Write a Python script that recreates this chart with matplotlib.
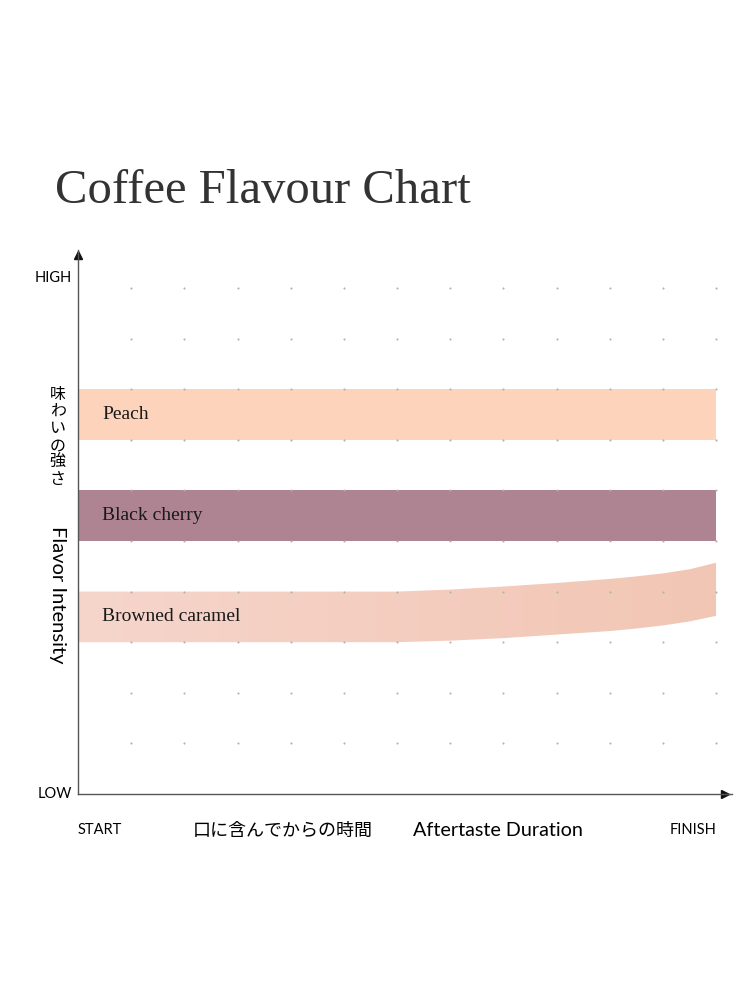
import numpy as np
import matplotlib
matplotlib.use('Agg')
from matplotlib import pyplot as plt
from matplotlib.colors import LinearSegmentedColormap

# flavour bands: (name, bottom, top, colour)
band_names = ['Peach', 'Black cherry']
band_bottom = [7, 5]
band_top = [8, 6]
band_colors = ['#fdd3bc', '#ae8492']

# browned caramel rises towards the finish
caramel_x = [0, 6, 7, 8, 9, 10, 10.5, 11, 11.5, 12]
caramel_top = [4.0, 4.0, 4.04, 4.1, 4.17, 4.25, 4.3, 4.36, 4.44, 4.57]
caramel_bottom = [3.0, 3.0, 3.03, 3.08, 3.15, 3.22, 3.27, 3.33, 3.41, 3.52]

x_end = 12
y_end = 10
xlim = 12.30
ylim = 10.75

serif = ['Liberation Serif', 'DejaVu Serif']
sans = ['Lato', 'Noto Sans CJK JP', 'DejaVu Sans']
cjk = ['Noto Sans CJK JP', 'DejaVu Sans']

fig = plt.figure(figsize=(7.5, 10), dpi=100)
fig.text(0.073, 0.797, 'Coffee Flavour Chart', family=serif, fontsize=35,
         color='#333333', va='baseline')

ax = fig.add_axes([0.104, 0.206, 0.872, 0.544])
ax.set_xlim(0, xlim)
ax.set_ylim(0, ylim)
ax.set_xticks([])
ax.set_yticks([])
for s in ['top', 'right']:
    ax.spines[s].set_visible(False)
for s in ['left', 'bottom']:
    ax.spines[s].set_color('#555555')
    ax.spines[s].set_linewidth(1.0)
ax.plot(0, 0.99, '^', color='#111111', markersize=6, transform=ax.transAxes, clip_on=False)
ax.plot(0.99, 0, '>', color='#111111', markersize=6, transform=ax.transAxes, clip_on=False)

# dotted grid
gx, gy = np.meshgrid(np.arange(1, x_end + 1), np.arange(1, y_end + 1))
ax.scatter(gx.ravel(), gy.ravel(), s=2.2, color='#b0b0b0', zorder=3, linewidths=0)

for name, b, t, c in zip(band_names, band_bottom, band_top, band_colors):
    ax.fill_between([0, x_end], b, t, color=c, lw=0, zorder=1)
    ax.text(0.45, (b + t) / 2, name, family=serif, fontsize=14, color='#1a1a1a',
            va='center', zorder=4)

poly = ax.fill_between(caramel_x, caramel_bottom, caramel_top, color='none', lw=0)
cmap = LinearSegmentedColormap.from_list('caramel', ['#f6d5cb', '#f2c6b4'])
grad = np.linspace(0, 1, 256).reshape(1, -1)
im = ax.imshow(grad, cmap=cmap, aspect='auto', extent=[0, x_end, 2.9, 4.7],
               zorder=1, interpolation='bilinear')
path = poly.get_paths()[0]
im.set_clip_path(path, transform=ax.transData)
ax.text(0.45, 3.5, 'Browned caramel', family=serif, fontsize=14, color='#1a1a1a',
        va='center', zorder=4)

# axis labels
ax.text(-0.11, 10.2, 'HIGH', family=sans, fontsize=10.5, ha='right', va='center')
ax.text(-0.11, 0, 'LOW', family=sans, fontsize=10.5, ha='right', va='center')
ax.text(0, -0.72, 'START', family=sans, fontsize=10.5, ha='left', va='center')
ax.text(x_end, -0.72, 'FINISH', family=sans, fontsize=10.5, ha='right', va='center')
ax.text(3.85, -0.72, '口に含んでからの時間', family=cjk, fontsize=13, ha='center', va='center')
ax.text(7.9, -0.72, 'Aftertaste Duration', family=sans, fontsize=14.2, ha='center', va='center')

ax.text(-0.38, 7.05, '\n'.join('味わいの強さ'), family=cjk, fontsize=11.5,
        ha='center', va='center', linespacing=1.0)
ax.text(-0.38, 3.93, 'Flavor Intensity', family=sans, fontsize=14.5, rotation=-90,
        ha='center', va='center')

fig.savefig('out.png', dpi=100)
